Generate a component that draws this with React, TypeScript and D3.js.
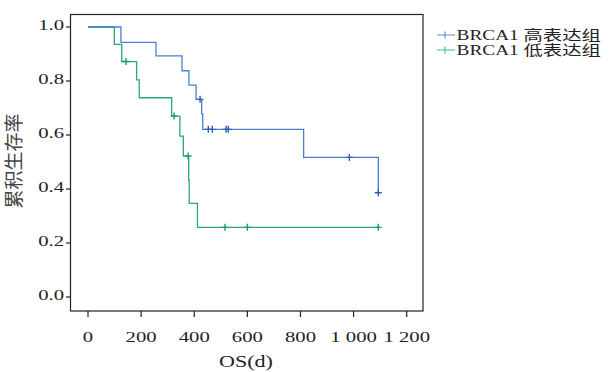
import React, { useEffect, useRef } from 'react';
import * as d3 from 'd3';

const xTicks = [0, 200, 400, 600, 800, 1000, 1200];
const xTickLabels = ['0', '200', '400', '600', '800', '1 000', '1 200'];
const yTicks = [0, 0.2, 0.4, 0.6, 0.8, 1.0];
const yTickLabels = ['0.0', '0.2', '0.4', '0.6', '0.8', '1.0'];

const seriesNames = ['BRCA1 高表达组', 'BRCA1 低表达组'];
const lineColors = ['#4a7fcf', '#27a878'];
const markColors = ['#2f5fb3', '#1f9a63'];
const legendColors = ['#5a8fd8', '#3bbf9f'];

// high expression group: day of each step and survival after it
const highDays = [0, 124, 256, 354, 380, 407, 428, 432, 812, 1093];
const highSurv = [1, 0.943, 0.893, 0.838, 0.785, 0.732, 0.678, 0.621, 0.517, 0.386];
const highCensored = [422, 453, 468, 520, 528, 984, 1093];

// low expression group
const lowDays = [0, 99, 127, 183, 193, 315, 346, 359, 379, 381, 412, 1093];
const lowSurv = [1, 0.936, 0.872, 0.804, 0.738, 0.67, 0.596, 0.522, 0.434, 0.347, 0.258, 0.258];
const lowCensored = [143, 324, 377, 516, 600, 1093];

const SX = 1.38; // the original text is stretched horizontally
const FONT = '"Liberation Serif", "Noto Sans CJK SC", serif';

const survAt = (days: number[], surv: number[], t: number) => {
  let s = surv[0];
  days.forEach((d, i) => { if (d <= t) s = surv[i]; });
  return s;
};

const App = () => {
  const svgRef = useRef<SVGSVGElement>(null);

  useEffect(() => {
    if (!svgRef.current) return;
    const svg = d3.select(svgRef.current);
    svg.selectAll('*').remove();

    const x = d3.scaleLinear().domain([0, 1200]).range([88, 406.7]);
    const y = d3.scaleLinear().domain([0, 1]).range([297, 27]);

    // frame
    svg.append('rect')
      .attr('x', 70.5).attr('y', 14.5)
      .attr('width', 352.5).attr('height', 296.5)
      .attr('fill', 'none').attr('stroke', '#222').attr('stroke-width', 1.2);

    // y ticks + labels
    yTicks.forEach((v, i) => {
      svg.append('line')
        .attr('x1', 66).attr('x2', 70)
        .attr('y1', y(v)).attr('y2', y(v))
        .attr('stroke', '#222').attr('stroke-width', 1.2);
      svg.append('text')
        .attr('transform', `translate(64, ${y(v) + 3}) scale(${SX}, 1)`)
        .attr('text-anchor', 'end')
        .attr('font-family', FONT).attr('font-size', 15).attr('fill', '#222')
        .text(yTickLabels[i]);
    });

    // x ticks + labels
    xTicks.forEach((v, i) => {
      svg.append('line')
        .attr('x1', x(v)).attr('x2', x(v))
        .attr('y1', 311).attr('y2', 317)
        .attr('stroke', '#222').attr('stroke-width', 1.2);
      svg.append('text')
        .attr('transform', `translate(${x(v)}, 341.5) scale(${SX}, 1)`)
        .attr('text-anchor', 'middle')
        .attr('font-family', FONT).attr('font-size', 15).attr('fill', '#222')
        .text(xTickLabels[i]);
    });

    // axis titles
    svg.append('text')
      .attr('transform', `translate(246, 367) scale(${SX}, 1)`)
      .attr('text-anchor', 'middle')
      .attr('font-family', FONT).attr('font-size', 16).attr('fill', '#222')
      .text('OS(d)');

    svg.append('text')
      .attr('transform', 'translate(14, 161) rotate(-90)')
      .attr('text-anchor', 'middle').attr('dy', '0.35em')
      .attr('font-family', FONT).attr('font-size', 19).attr('fill', '#444')
      .text('累积生存率');

    // survival curves
    const line = d3.line<[number, number]>()
      .curve(d3.curveStepAfter)
      .x(d => x(d[0]))
      .y(d => y(d[1]));

    const groups = [
      { days: highDays, surv: highSurv, cens: highCensored },
      { days: lowDays, surv: lowSurv, cens: lowCensored },
    ];

    // draw low group first so the high one sits on top
    [1, 0].forEach(gi => {
      const g = groups[gi];
      const pts = g.days.map((d, i) => [d, g.surv[i]] as [number, number]);
      svg.append('path')
        .attr('d', line(pts))
        .attr('fill', 'none')
        .attr('stroke', lineColors[gi])
        .attr('stroke-width', 1.3);

      g.cens.forEach(t => {
        const cx = x(t);
        const cy = y(survAt(g.days, g.surv, t));
        svg.append('path')
          .attr('d', `M${cx - 3.5},${cy}H${cx + 3.5}M${cx},${cy - 3.5}V${cy + 3.5}`)
          .attr('stroke', markColors[gi])
          .attr('stroke-width', 1.4);
      });
    });

    // legend
    seriesNames.forEach((name, i) => {
      const by = 40 + i * 15;
      const cy = by - 5;
      svg.append('path')
        .attr('d', `M437,${cy}H455M445,${cy - 3.5}V${cy + 3.5}`)
        .attr('stroke', legendColors[i]).attr('stroke-width', 1.2);
      svg.append('text')
        .attr('transform', `translate(456.5, ${by}) scale(${SX}, 1)`)
        .attr('font-family', FONT).attr('font-size', 14).attr('fill', '#222')
        .text(name);
    });
  }, []);

  return (
    <svg
      ref={svgRef}
      width={610}
      height={372}
      style={{ position: 'absolute', left: 0, top: 0, background: '#fff' }}
    />
  );
};

export default App;
